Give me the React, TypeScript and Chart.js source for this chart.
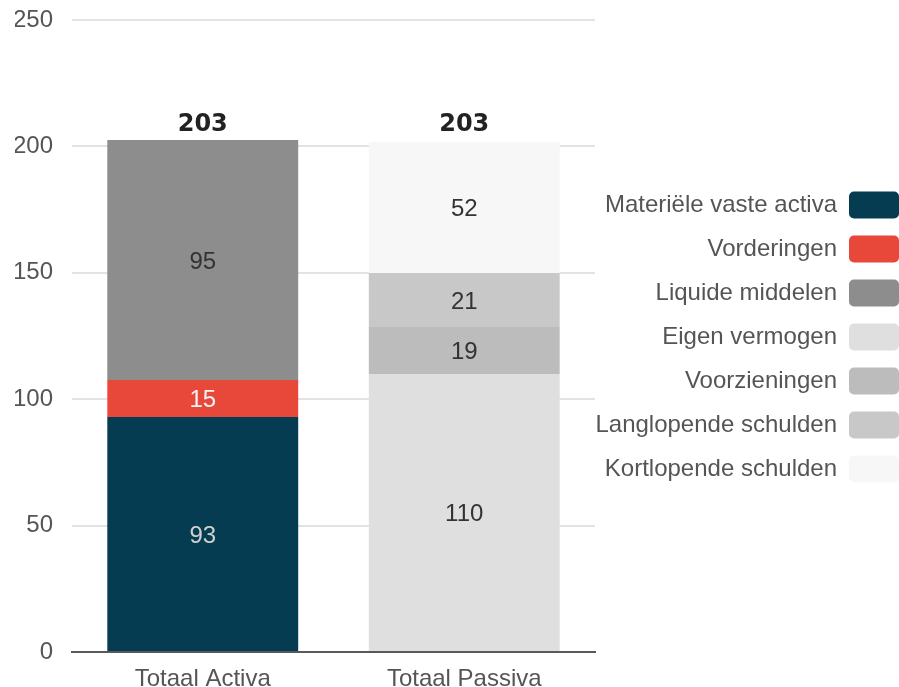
import React, { useEffect, useRef } from "react";
import { Chart, registerables } from "chart.js";

Chart.register(...registerables);

const categories = ["Totaal Activa", "Totaal Passiva"];
const seriesNames = [
  "Materiële vaste activa",
  "Vorderingen",
  "Liquide middelen",
  "Eigen vermogen",
  "Voorzieningen",
  "Langlopende schulden",
  "Kortlopende schulden",
];
const activaValues = [93, 14.6, 94.9];
const passivaValues = [110, 18.6, 21.3, 51.8];
const totals = [203, 203];
const seriesColors = ["#053c51", "#e8483a", "#8d8d8d", "#dfdfdf", "#bcbcbc", "#c8c8c8", "#f7f7f7"];
const labelColors = ["#d0d0d0", "#f4f4f4", "#333333", "#333333", "#333333", "#333333", "#333333"];
const yMin = 0;
const yMax = 250;
const yStep = 50;

const FONT = "'Liberation Sans', Arial, Helvetica, sans-serif";
const W = 916;
const H = 687;

const segLabels = {
  id: "segLabels",
  afterDatasetsDraw(chart: any) {
    const ctx = chart.ctx;
    ctx.save();
    ctx.font = `24px ${FONT}`;
    ctx.textAlign = "center";
    ctx.textBaseline = "middle";
    chart.data.datasets.forEach((ds: any, di: number) => {
      const meta = chart.getDatasetMeta(di);
      meta.data.forEach((el: any, i: number) => {
        const v = ds.data[i];
        if (v == null) return;
        const p = el.getProps(["x", "y", "base"], true);
        ctx.fillStyle = labelColors[di];
        ctx.fillText(String(Math.round(v)), p.x, (p.y + p.base) / 2 + 2);
      });
    });
    ctx.font = `bold 24px 'DejaVu Sans', ${FONT}`;
    ctx.fillStyle = "#222222";
    ctx.textBaseline = "alphabetic";
    const yScale = chart.scales.y;
    categories.forEach((_c, i) => {
      let x = 0;
      chart.data.datasets.forEach((ds: any, di: number) => {
        if (ds.data[i] == null) return;
        x = chart.getDatasetMeta(di).data[i].x;
      });
      ctx.fillText(String(totals[i]), x, yScale.getPixelForValue(totals[i]) - 8);
    });
    ctx.restore();
  },
};

const legendShift = {
  id: "legendShift",
  afterLayout(chart: any) {
    const lg = chart.legend;
    if (lg) lg.bottom -= 33;
  },
};

export default function App() {
  const ref = useRef<HTMLCanvasElement | null>(null);
  useEffect(() => {
    if (!ref.current) return;
    const datasets = seriesNames.map((name, i) => ({
      label: name,
      data: i < activaValues.length ? [activaValues[i], null] : [null, passivaValues[i - activaValues.length]],
      backgroundColor: seriesColors[i],
      borderColor: seriesColors[i],
      borderWidth: 0,
      barPercentage: 0.73,
      categoryPercentage: 1,
    }));
    const chart = new Chart(ref.current, {
      type: "bar",
      data: { labels: categories, datasets: datasets as any },
      plugins: [segLabels, legendShift],
      options: {
        responsive: false,
        animation: false,
        devicePixelRatio: 1,
        layout: { padding: { left: 15, top: 20, right: 0, bottom: 0 } },
        plugins: {
          tooltip: { enabled: false },
          legend: {
            position: "right",
            rtl: true,
            textDirection: "ltr",
            maxWidth: W - 595,
            labels: {
              textAlign: "left",
              boxWidth: 50,
              boxHeight: 27,
              padding: 17,
              useBorderRadius: true,
              borderRadius: 5,
              color: "#555555",
              font: { family: FONT, size: 24 },
            },
          } as any,
        },
        scales: {
          x: {
            stacked: true,
            grid: { display: false, drawTicks: false },
            border: { display: true, color: "#58595b", width: 2 },
            ticks: { color: "#555555", padding: 13, font: { family: FONT, size: 24 } },
            afterFit: (scale: any) => {
              scale.height = 35;
            },
          },
          y: {
            stacked: true,
            min: yMin,
            max: yMax,
            ticks: { stepSize: yStep, color: "#555555", padding: 19, font: { family: FONT, size: 24 } },
            grid: { color: "#e1e3e8", lineWidth: 2, drawTicks: false },
            border: { display: false },
            afterFit: (scale: any) => {
              scale.width = 57;
              scale.paddingTop = 0;
              scale.paddingBottom = 0;
            },
          },
        },
      },
    });
    return () => chart.destroy();
  }, []);
  return (
    <div style={{ position: "fixed", left: 0, top: 0, width: W, height: H, background: "#fff" }}>
      <canvas ref={ref} width={W} height={H} style={{ width: W, height: H, display: "block" }} />
    </div>
  );
}
